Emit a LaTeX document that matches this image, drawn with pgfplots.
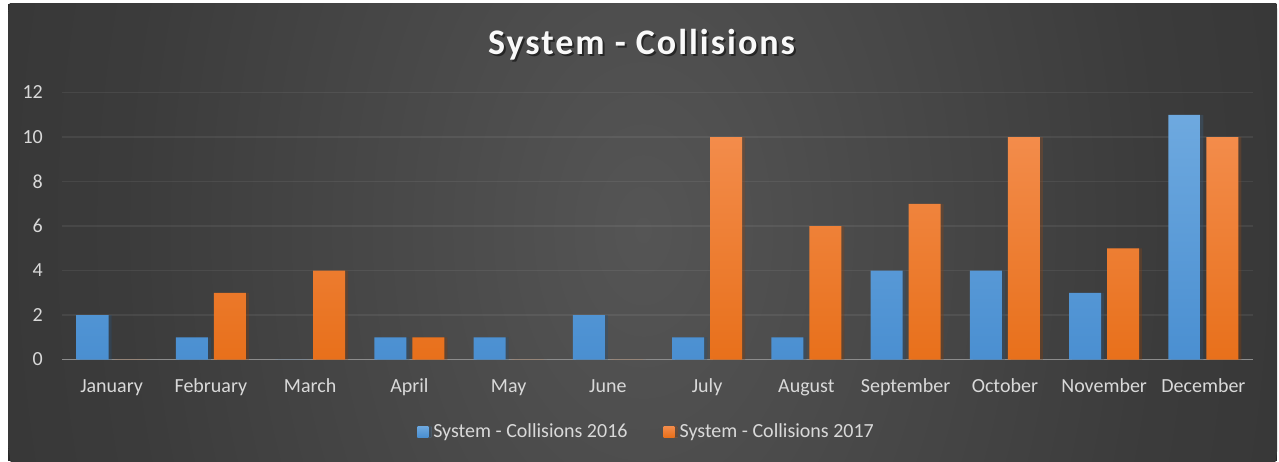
\documentclass[border=0pt]{standalone}
\usepackage{fontspec}
\setmainfont{Carlito}
\newfontfamily\titlefont[LetterSpace=5.5]{Carlito}
\usepackage{pgfplots}
\pgfplotsset{compat=1.18}
\usepackage{pgfplotstable}

\definecolor{bgdark}{HTML}{272727}
\definecolor{ticktext}{HTML}{D9D9D9}
\definecolor{blueTop}{HTML}{6EA9DF}
\definecolor{blueBot}{HTML}{4A8FD1}
\definecolor{orangeTop}{HTML}{F38C4B}
\definecolor{orangeBot}{HTML}{E8701B}
\definecolor{baseline}{HTML}{8C8C8C}

\pgfdeclareradialshading{chartbg}{\pgfpoint{0bp}{0bp}}{rgb(0bp)=(0.333,0.333,0.333); rgb(20bp)=(0.232,0.232,0.232); rgb(50bp)=(0.155,0.155,0.155)}

% month index, 2016, 2017
\pgfplotstableread{
idx y2016 y2017
0  2  0
1  1  3
2  0  4
3  1  1
4  1  0
5  2  0
6  1  10
7  1  6
8  4  7
9  4  10
10 3  5
11 11 10
}\collisions

\begin{document}
\begin{tikzpicture}
% background, in pt, origin at the picture's lower left corner
\fill[white] (0pt,0pt) rectangle (1279pt,461pt);
\fill[bgdark] (8pt,0pt) rectangle (1277pt,457pt);
\begin{scope}
  \clip (8pt,0pt) rectangle (1277pt,457pt);
  \shade[overlay, shading=chartbg] (643pt,231pt) ellipse [x radius=650pt, y radius=1000pt];
\end{scope}

% title with soft shadow
\node[anchor=base, text=black, opacity=0.5] at (643.5pt,404pt) {\titlefont\bfseries\fontsize{36}{40}\selectfont System - Collisions};
\node[anchor=base, text=white!95!gray] at (641.5pt,406pt) {\titlefont\bfseries\fontsize{36}{40}\selectfont System - Collisions};

\begin{axis}[
  at={(62pt,101.5pt)}, anchor=south west,
  scale only axis, width=1191pt, height=267pt,
  xmin=-0.5, xmax=11.5, ymin=0, ymax=12,
  ytick={0,2,...,12},
  xtick={0,...,11},
  xticklabels={January,February,March,April,May,June,July,August,September,October,November,December},
  major tick length=0pt,
  separate axis lines,
  axis x line*=bottom, axis y line*=left,
  x axis line style={draw=baseline, line width=1.5pt, -},
  y axis line style={draw=none},
  ymajorgrids,
  grid style={line width=1.5pt, white, opacity=0.065},
  /pgf/number format/assume math mode=true,
  tick label style={font=\fontsize{20}{24}\selectfont, text=ticktext},
  xticklabel style={anchor=base, inner sep=0pt, yshift=-33pt},
  yticklabel style={anchor=east, inner sep=0pt, xshift=-19pt},
  legend columns=2,
  legend style={at={(0.490,-0.268)}, anchor=center, draw=none, fill=none,
    font=\fontsize{20}{24}\selectfont, text=ticktext,
    nodes={inner sep=0pt},
    /tikz/every odd column/.append style={column sep=5pt},
    /tikz/every even column/.append style={column sep=36pt}},
  legend image code/.code={\fill[#1] (0pt,-6pt) rectangle (11pt,5pt);},
]
\addplot[ybar, bar width=32pt, bar shift=-19pt, draw=none,
  top color=blueTop, bottom color=blueBot,
  preaction={fill=black, opacity=0.22, transform canvas={xshift=3pt}}]
  table[x=idx, y=y2016]{\collisions};
\addlegendentry{System - Collisions 2016}
\addplot[ybar, bar width=32pt, bar shift=19pt, draw=none,
  top color=orangeTop, bottom color=orangeBot,
  preaction={fill=black, opacity=0.22, transform canvas={xshift=3pt}}]
  table[x=idx, y=y2017]{\collisions};
\addlegendentry{System - Collisions 2017}
\end{axis}
\end{tikzpicture}
\end{document}
